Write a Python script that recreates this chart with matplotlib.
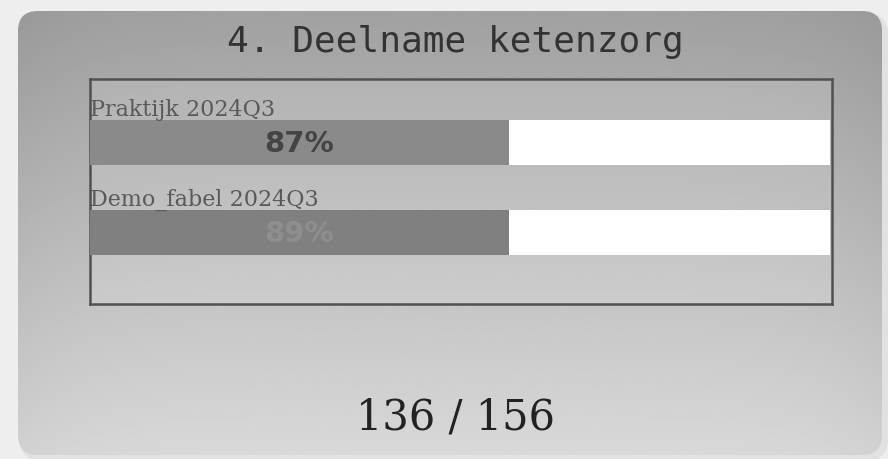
import numpy as np
import matplotlib.pyplot as plt
from matplotlib.patches import FancyBboxPatch

# Data read from the card
title = '4. Deelname ketenzorg'
labels = ['Praktijk 2024Q3', 'Demo_fabel 2024Q3']
percentages = [87, 89]
bar_fill = [56.6, 56.6]     # length of the dark part of each bar (0-100 scale)
bar_total = [100, 100]
count = 136
total = 156

fig = plt.figure(figsize=(8.88, 4.60), dpi=100)
fig.patch.set_facecolor('#eeeeee')

# background axes in pixel units for the card
bg = fig.add_axes([0, 0, 1, 1])
bg.set_xlim(0, 888)
bg.set_ylim(460, 0)
bg.axis('off')

# soft shadow
shadow = FancyBboxPatch((20, 15), 868, 446, boxstyle='round,pad=0,rounding_size=20',
                        facecolor='#000000', alpha=0.05, edgecolor='none')
bg.add_patch(shadow)

card = FancyBboxPatch((18, 12), 864, 444, boxstyle='round,pad=0,rounding_size=20',
                      facecolor='none', edgecolor='none')
bg.add_patch(card)

# vertical gradient with slightly darker side edges
yy = np.linspace(0, 1, 200)[:, None]
xx = np.linspace(0, 1, 400)[None, :]
vert = 0.63 + 0.22 * yy
side = 0.03 * (np.abs(xx - 0.5) * 2) ** 6
grad = np.clip(vert - side, 0, 1)
img = bg.imshow(grad, cmap='gray', vmin=0, vmax=1, extent=(18, 882, 456, 12),
                aspect='auto', interpolation='bilinear', zorder=1)
img.set_clip_path(card)

bg.text(455, 42, title, ha='center', va='center', fontsize=26,
        family='DejaVu Sans Mono', color='#333333', zorder=3)
bg.text(455, 418, f'{count} / {total}', ha='center', va='center', fontsize=30,
        family='DejaVu Serif', color='#222222', zorder=3)

# bar panel
ax = fig.add_axes([90 / 888, 1 - 305 / 460, (832 - 90) / 888, (305 - 80) / 460])
ax.set_facecolor((1, 1, 1, 0.12))
y = np.arange(len(labels))
ax.barh(y, bar_total, height=0.5, color='white', zorder=2)
ax.barh(y, bar_fill, height=0.5, color=['#8a8a8a', '#808080'], zorder=3)
text_colors = ['#444444', '#8e8e8e']
for i, (lab, pct) in enumerate(zip(labels, percentages)):
    ax.text(0, i - 0.31, lab, ha='left', va='baseline', fontsize=16,
            family='DejaVu Serif', color='#5a5a5a', zorder=4)
    ax.text(bar_fill[i] / 2, i, f'{pct}%', ha='center', va='center', fontsize=21,
            fontweight='bold', color=text_colors[i], zorder=4)

ax.set_xlim(0, 100.3)
ax.set_ylim(1.794, -0.706)
ax.set_xticks([])
ax.set_yticks([])
for s in ax.spines.values():
    s.set_color('#505050')
    s.set_linewidth(1.8)

fig.savefig('out.png', dpi=100, facecolor=fig.get_facecolor())
